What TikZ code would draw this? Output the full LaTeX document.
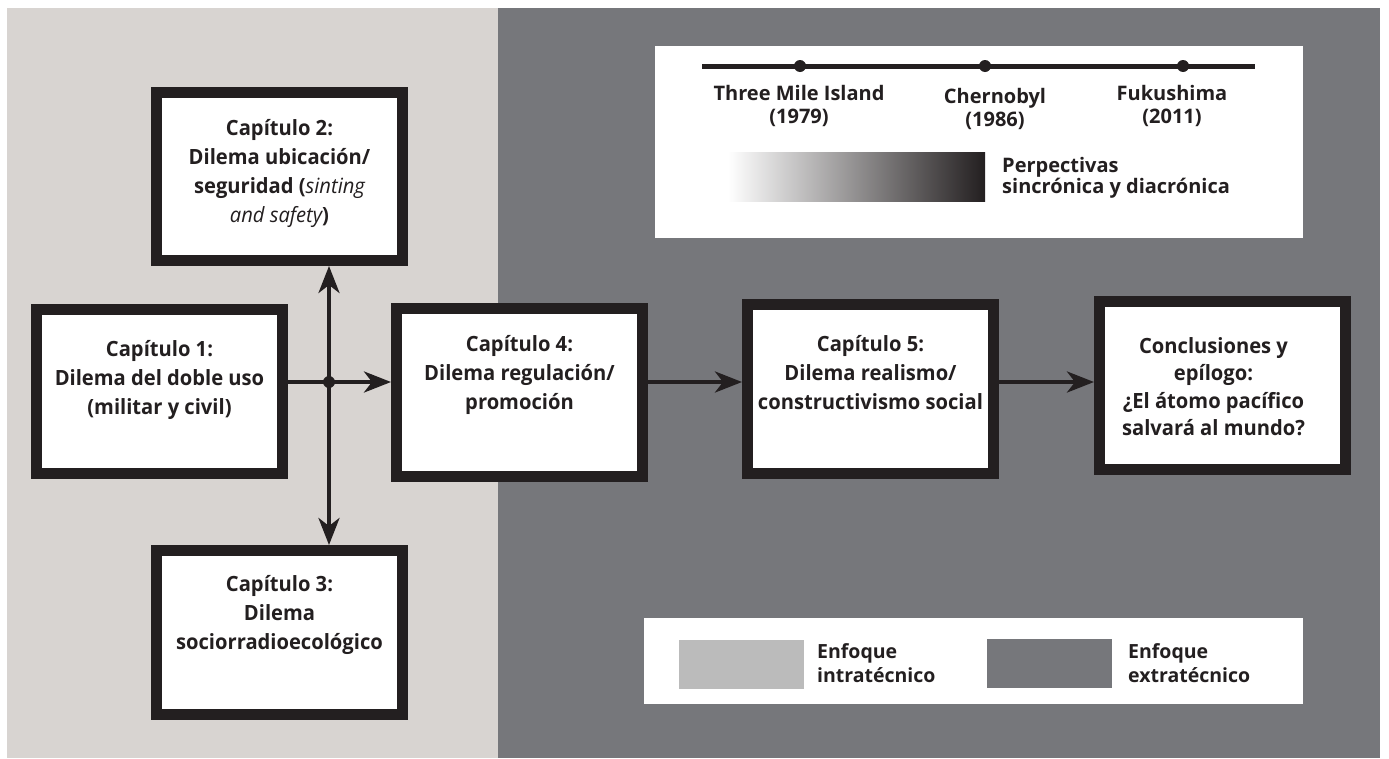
\documentclass[tikz,border=0pt]{standalone}
\usepackage{fontspec}
\setmainfont{Open Sans}
\newfontfamily\boxfont[FakeStretch=0.96]{Open Sans}
\usetikzlibrary{arrows.meta}

\definecolor{ink}{RGB}{35,31,32}
\definecolor{paneLight}{RGB}{216,212,209}
\definecolor{paneDark}{RGB}{118,119,123}
\definecolor{swatchLight}{RGB}{187,187,187}

% multi-line text whose reference point is the first baseline
\newcommand\toplinesc[1]{\begin{tabular}[t]{@{}c@{}}#1\end{tabular}}
\newcommand\toplinesl[1]{\begin{tabular}[t]{@{}l@{}}#1\end{tabular}}

\begin{document}
\begin{tikzpicture}[x=1pt,y=-1pt,
  chbox/.style={draw=ink, line width=11pt, fill=white, inner sep=0pt,
    outer sep=5.5pt, minimum width=246pt, minimum height=168pt},
  chtext/.style={anchor=base, text=ink, inner sep=0pt,
    font=\boxfont\fontsize{21}{29}\selectfont\bfseries},
  condlabel/.style={anchor=base, text=ink, inner sep=0pt,
    font=\fontsize{20}{23}\selectfont\bfseries},
  keytext/.style={anchor=base west, text=ink, inner sep=0pt,
    font=\fontsize{20}{20.5}\selectfont\bfseries},
  whitepanel/.style={fill=white, inner sep=0pt, outer sep=0pt},
  swatch/.style={inner sep=0pt, outer sep=0pt, minimum width=125pt, minimum height=49pt},
  evdot/.style={circle, fill=ink, inner sep=0pt, minimum size=12pt},
  tip/.tip={Stealth[length=27pt, width=21pt, inset=8pt]},
  flow/.style={draw=ink, line width=4pt, -tip},
  twoway/.style={draw=ink, line width=4pt, tip-tip},
]
\useasboundingbox (0,0) rectangle (1389,758);
\fill[white] (0,0) rectangle (1389,758);

% background panels: intra-technical (left) and extra-technical (right)
\fill[paneLight] (7,8) rectangle (498,758);
\fill[paneDark] (498,8) rectangle (1380,758);

% timeline and perspective key
\node[whitepanel, minimum width=648pt, minimum height=192pt] (keybox) at (979,142) {};
\coordinate (tlL) at (702,66);
\coordinate (tlR) at (1255,66);
\draw[ink, line width=5pt] (tlL) -- (tlR);
\node[evdot] (tmi) at (800,66) {};
\node[evdot] (cher) at (985,66) {};
\node[evdot] (fuku) at (1183,66) {};
\node[condlabel] (tmiL) at (799,100) {\toplinesc{Three Mile Island\\(1979)}};
\node[condlabel] (cherL) at (995,103) {\toplinesc{Chernobyl\\(1986)}};
\node[condlabel] (fukuL) at (1172,100) {\toplinesc{Fukushima\\(2011)}};
\node[inner sep=0pt, minimum width=257pt, minimum height=49pt,
  left color=white, right color=ink] (grad) at (856.5,176.5) {};
\node[keytext] (gradL) at (1002,172) {\toplinesl{Perpectivas\\sincrónica y diacrónica}};

% legend
\node[whitepanel, minimum width=659pt, minimum height=86pt] (legend) at (973.5,661) {};
\node[swatch, fill=swatchLight] (swL) at (741.5,664.5) {};
\node[swatch, fill=paneDark] (swD) at (1049.5,663.5) {};
\node[keytext, font=\fontsize{19.5}{24}\selectfont\bfseries] (swLt) at (817,658) {\toplinesl{Enfoque\\intratécnico}};
\node[keytext, font=\fontsize{19.5}{24}\selectfont\bfseries] (swDt) at (1128,658) {\toplinesl{Enfoque\\extratécnico}};

% chapter boxes
\node[chbox, minimum height=164pt] (c1) at (159.5,391.5) {};
\node[chbox] (c2) at (279.5,176.5) {};
\node[chbox, minimum height=164pt] (c3) at (279.5,632.5) {};
\node[chbox] (c4) at (519.5,392.5) {};
\node[chbox, minimum height=169pt] (c5) at (870.5,389) {};
\node[chbox] (cc) at (1222.5,385.5) {};

\node[chtext] (c1t) at ([yshift=-52pt]c1.north) {\toplinesc{Capítulo 1:\\Dilema del doble uso\\(militar y civil)}};
\node[chtext] (c2t) at ([yshift=-48pt]c2.north) {\toplinesc{Capítulo 2:\\Dilema ubicación/\\seguridad ({\mdseries\itshape sinting}\\{\mdseries\itshape and safety})}};
\node[chtext] (c3t) at ([yshift=-46pt]c3.north) {\toplinesc{Capítulo 3:\\Dilema\\sociorradioecológico}};
\node[chtext] (c4t) at ([yshift=-48pt]c4.north) {\toplinesc{Capítulo 4:\\Dilema regulación/\\promoción}};
\node[chtext] (c5t) at ([yshift=-52pt]c5.north) {\toplinesc{Capítulo 5:\\Dilema realismo/\\constructivismo social}};
\node[chtext, font=\boxfont\fontsize{21}{27.5}\selectfont\bfseries] (cct) at ([xshift=-9pt,yshift=-57pt]cc.north) {\toplinesc{Conclusiones y\\epílogo:\\¿El átomo pacífico\\salvará al mundo?}};

% connectors
\coordinate (hub) at (329,382);
\draw[flow] (c1.east |- hub) -- (c4.west |- hub);
\draw[twoway] (hub |- c2.south) -- (hub |- c3.north);
\fill[ink] (hub) circle (6pt);
\draw[flow] (c4.east |- hub) -- (c5.west |- hub);
\draw[flow] (c5.east |- hub) -- (cc.west |- hub);
\end{tikzpicture}
\end{document}
